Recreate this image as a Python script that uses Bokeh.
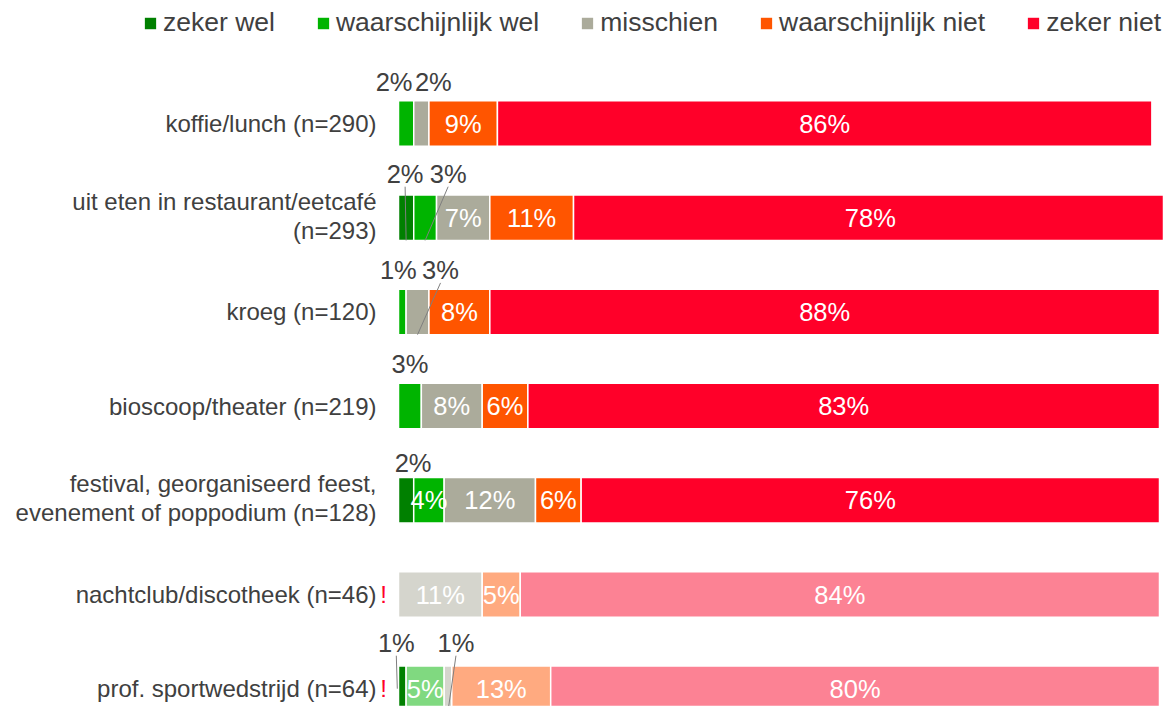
from bokeh.plotting import figure
from bokeh.models import ColumnDataSource, Range1d, Legend, LegendItem
from bokeh.core.properties import value
from bokeh.embed import file_html
from bokeh.resources import INLINE
import numpy as np

# ---------------- data ----------------
categories = [
    "koffie/lunch (n=290)",
    "uit eten in restaurant/eetcafé\n(n=293)",
    "kroeg (n=120)",
    "bioscoop/theater (n=219)",
    "festival, georganiseerd feest,\nevenement of poppodium (n=128)",
    "nachtclub/discotheek (n=46)",
    "prof. sportwedstrijd (n=64)",
]
low_n = [False, False, False, False, False, True, True]
series = ["zeker wel", "waarschijnlijk wel", "misschien", "waarschijnlijk niet", "zeker niet"]
zeker_wel = [0, 2, 0, 0, 2, 0, 1]
waarschijnlijk_wel = [2, 3, 1, 3, 4, 0, 5]
misschien = [2, 7, 3, 8, 12, 11, 1]
waarschijnlijk_niet = [9, 11, 8, 6, 6, 5, 13]
zeker_niet = [86, 78, 88, 83, 76, 84, 80]

# ---------------- style ----------------
base_colors = ["#008000", "#00B400", "#ABAB9B", "#FF5500", "#FF0029"]
light_colors = ["#008000", "#80D980", "#D5D5CD", "#FFAA80", "#FC8294"]
FONT = "Liberation Sans"
TXT = "#404040"

W, H = 1163, 706
PX = 7.61           # pixels per percent
X0 = 398            # bar origin within the figure
ROW0 = 123          # first row centre within the figure
ROWH = 94.2         # pixels per row
BAR_H = 0.483

xmin = -X0 / PX
xmax = xmin + W / PX
y_bottom = (H - ROW0) / ROWH
y_top = -ROW0 / ROWH

p = figure(width=W, height=H, output_backend="svg", toolbar_location=None,
           x_range=Range1d(xmin, xmax), y_range=Range1d(y_bottom, y_top),
           min_border=0, min_border_left=0, min_border_right=0,
           min_border_top=0, min_border_bottom=0)
p.axis.visible = False
p.grid.visible = False
p.outline_line_color = None
p.background_fill_color = "white"
p.border_fill_color = "white"

vals = np.array([zeker_wel, waarschijnlijk_wel, misschien, waarschijnlijk_niet, zeker_niet], dtype=float)
rights = np.cumsum(vals, axis=0)
lefts = rights - vals
rows = np.arange(len(categories))

legend_items = []
inside = dict(x=[], y=[], t=[])
above = dict(x=[], y=[], t=[])
lead = dict(x0=[], y0=[], x1=[], y1=[])

# label placements for small segments (px offsets from segment centre / row centre)
above_adj = {(0, 1): (-12, -42), (0, 2): (12, -42), (1, 0): (-1, -44), (1, 1): (23, -44),
             (2, 1): (-4, -42), (2, 2): (23, -42), (3, 1): (0, -42), (4, 0): (7, -37),
             (6, 0): (-6, -46), (6, 2): (8, -46)}
leaders = {(1, 0): (0, 0.5), (1, 1): (0, 0.5), (2, 2): (0, 0.5), (6, 0): (-5, 0.0), (6, 2): (0, 0.5)}

for s in range(len(series)):
    for light in (False, True):
        idx = [r for r in rows if low_n[r] == light and vals[s, r] > 0]
        if not idx:
            continue
        src = ColumnDataSource(dict(y=[rows[r] for r in idx],
                                    left=[lefts[s, r] for r in idx],
                                    right=[rights[s, r] for r in idx]))
        col = (light_colors if light else base_colors)[s]
        rnd = p.hbar(y="y", left="left", right="right", height=BAR_H, source=src,
                     fill_color=col, line_color="white", line_width=1.5)
        if not light:
            legend_items.append(LegendItem(label=series[s], renderers=[rnd]))
    for r in rows:
        v = vals[s, r]
        if v <= 0:
            continue
        cx = (lefts[s, r] + rights[s, r]) / 2
        label = f"{int(v)}%"
        if v <= 3:
            dx, dy = above_adj.get((r, s), (0, -42))
            above["x"].append(cx + dx / PX)
            above["y"].append(r + dy / ROWH)
            above["t"].append(label)
            if (r, s) in leaders:
                edx, frac = leaders[(r, s)]
                lead["x0"].append(cx + dx / PX)
                lead["y0"].append(r + (dy + 13) / ROWH)
                lead["x1"].append(cx + edx / PX)
                lead["y1"].append(r + frac * BAR_H)
        else:
            inside["x"].append(cx)
            inside["y"].append(r)
            inside["t"].append(label)

p.segment(x0="x0", y0="y0", x1="x1", y1="y1", source=ColumnDataSource(lead),
          line_color="#7F7F7F", line_width=1)

p.text(x="x", y="y", text="t", source=ColumnDataSource(inside),
       text_align="center", text_baseline="middle", text_color="white",
       text_font=value(FONT), text_font_size="25.5px")
p.text(x="x", y="y", text="t", source=ColumnDataSource(above),
       text_align="center", text_baseline="middle", text_color=TXT,
       text_font=value(FONT), text_font_size="25.5px")

# category labels
single = [r for r in rows if "\n" not in categories[r]]
multi = [r for r in rows if "\n" in categories[r]]
p.text(x=[0] * len(single), y=single, text=[categories[r] for r in single], x_offset=-22,
       text_align="right", text_baseline="middle", text_color=TXT,
       text_font=value(FONT), text_font_size="24px")
p.text(x=[0] * len(multi), y=multi, text=[categories[r] for r in multi], x_offset=-22,
       y_offset=-2, text_align="right", text_baseline="middle", text_color=TXT,
       text_font=value(FONT), text_font_size="24px", text_line_height=1.08)
warn_rows = [r for r in rows if low_n[r]]
p.text(x=[0] * len(warn_rows), y=warn_rows, text=["!"] * len(warn_rows), x_offset=-15,
       text_align="center", text_baseline="middle", text_color="#FF0029",
       text_font=value(FONT), text_font_size="24px")

legend = Legend(items=legend_items, orientation="horizontal", location=(142, H - 38),
                glyph_width=16, glyph_height=16, label_standoff=5, spacing=40,
                padding=0, margin=0, border_line_color=None, background_fill_alpha=0,
                label_text_font=FONT, label_text_font_size="26.5px",
                label_text_color=TXT)
p.add_layout(legend)

open("out.html", "w").write(file_html(p, INLINE))
